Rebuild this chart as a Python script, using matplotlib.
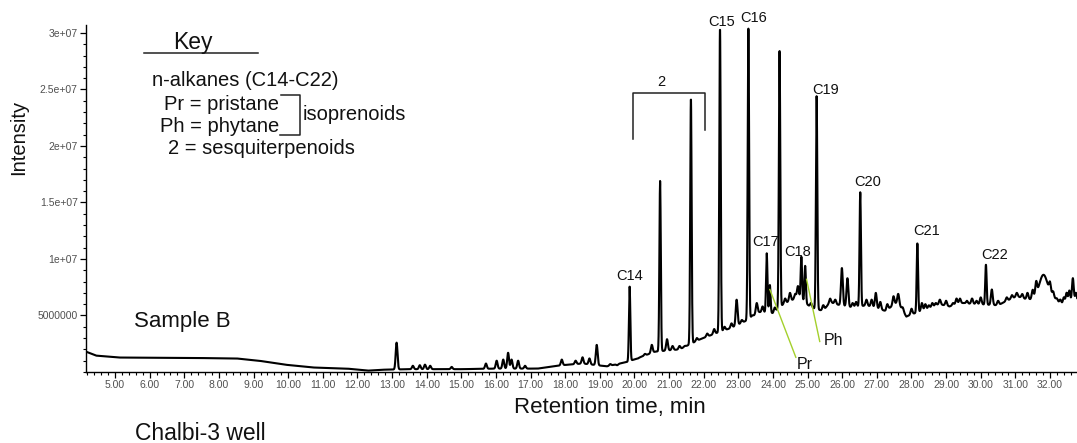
import numpy as np
import matplotlib
matplotlib.use("Agg")
import matplotlib.pyplot as plt
from matplotlib.ticker import MultipleLocator, FixedLocator, FixedFormatter

plt.rcParams["font.family"] = ["Liberation Sans", "DejaVu Sans"]

# Baseline of the TIC trace (retention time in min, intensity)
base_t = [4.16, 4.45, 5.1, 7.0, 8.5, 9.15, 9.9, 10.7, 11.7, 12.3, 12.7, 13.5, 15.0,
          16.0, 17.2, 17.9, 18.5, 19.2, 19.8, 20.6, 21.3, 21.9, 22.5, 22.8, 23.2,
          23.6, 24.0, 24.3, 24.5, 24.75, 25.1, 25.45, 25.65, 25.8, 26.3, 26.7,
          27.25, 27.6, 27.85, 28.0, 28.5, 28.8, 29.1, 29.4, 29.9, 30.5, 30.75,
          31.05, 31.35, 32.1, 32.3, 32.78]
base_i = [1.8e6, 1.45e6, 1.28e6, 1.25e6, 1.2e6, 1.0e6, 0.65e6, 0.4e6, 0.3e6, 0.12e6,
          0.2e6, 0.25e6, 0.25e6, 0.3e6, 0.3e6, 0.6e6, 0.75e6, 0.5e6, 0.9e6, 1.8e6,
          2.0e6, 2.9e6, 3.6e6, 3.9e6, 4.5e6, 5.3e6, 5.2e6, 6.0e6, 6.3e6, 6.6e6,
          5.7e6, 5.4e6, 6.2e6, 6.0e6, 5.7e6, 5.9e6, 5.4e6, 6.2e6, 4.9e6, 5.1e6,
          5.6e6, 6.0e6, 5.8e6, 6.1e6, 6.0e6, 5.9e6, 6.3e6, 6.7e6, 6.4e6, 6.6e6,
          6.0e6, 6.2e6]

# Named peaks: n-alkanes, isoprenoids and unlabelled sesquiterpenoid/major peaks
peak_names = ["C14", "", "", "C15", "C16", "C17", "Pr", "", "C18", "Ph", "C19",
              "C20", "C21", "C22"]
peak_t = [19.86, 20.74, 21.63, 22.47, 23.29, 23.82, 23.91, 24.19, 24.82, 24.93,
          25.26, 26.52, 28.17, 30.15]
peak_i = [7.55e6, 1.69e7, 2.42e7, 3.04e7, 3.05e7, 1.05e7, 7.7e6, 2.85e7, 1.02e7,
          9.4e6, 2.44e7, 1.59e7, 1.14e7, 9.5e6]

# Small peaks and detector noise
minor_t = [13.13, 13.6, 13.8, 13.95, 14.1, 14.72, 15.71, 16.02, 16.21, 16.35, 16.45,
           16.64, 16.84, 17.9, 18.3, 18.5, 18.7, 18.91, 19.3, 19.5, 20.1, 20.3, 20.5,
           20.94, 21.1, 21.3, 21.45, 21.8, 22.1, 22.3, 22.6, 22.8, 22.95, 23.1, 23.4,
           23.53, 23.7, 24.05, 24.35, 24.49, 24.64, 24.72, 25.1, 25.45, 25.65, 25.8,
           25.99, 26.15, 26.3, 26.4, 26.7, 26.85, 26.97, 27.1, 27.3, 27.48, 27.62,
           27.75, 28.0, 28.3, 28.4, 28.5, 28.6, 28.7, 28.82, 29.0, 29.2, 29.3, 29.4,
           29.5, 29.6, 29.75, 29.88, 30.0, 30.32, 30.5, 30.75, 30.9, 31.04, 31.2,
           31.35, 31.5, 31.6, 32.0, 32.09, 32.2, 32.3, 32.4, 32.48, 32.56, 32.66,
           32.75]
minor_i = [2.6e6, 0.55e6, 0.6e6, 0.65e6, 0.55e6, 0.45e6, 0.75e6, 1.0e6, 1.1e6, 1.7e6,
           1.1e6, 1.0e6, 0.55e6, 1.1e6, 1.0e6, 1.3e6, 1.2e6, 2.4e6, 0.7e6, 0.6e6,
           1.2e6, 1.6e6, 2.4e6, 2.9e6, 2.3e6, 2.3e6, 2.3e6, 3.0e6, 3.4e6, 3.8e6,
           4.0e6, 4.3e6, 6.4e6, 4.6e6, 5.0e6, 6.1e6, 5.8e6, 5.7e6, 6.5e6, 7.0e6,
           6.9e6, 7.6e6, 6.1e6, 5.9e6, 6.5e6, 6.4e6, 9.2e6, 8.3e6, 6.1e6, 6.2e6,
           6.4e6, 6.4e6, 7.0e6, 6.2e6, 6.0e6, 6.7e6, 6.9e6, 5.7e6, 5.6e6, 6.1e6,
           6.0e6, 5.9e6, 6.1e6, 6.1e6, 6.4e6, 6.3e6, 6.1e6, 6.5e6, 6.5e6, 6.1e6,
           6.3e6, 6.5e6, 6.3e6, 6.6e6, 7.3e6, 6.3e6, 6.6e6, 6.8e6, 7.0e6, 6.9e6,
           7.0e6, 7.2e6, 7.6e6, 7.4e6, 7.0e6, 6.5e6, 6.4e6, 6.6e6, 7.0e6, 7.2e6,
           8.3e6, 7.0e6]

# Broad unresolved hump near the end of the run
hump_t = [31.81]
hump_i = [8.6e6]

t = np.arange(4.16, 32.79, 0.004)
baseline = np.interp(t, base_t, base_i)
signal = baseline.copy()


def add_peaks(times, tops, sigma):
    global signal
    for pt, top in zip(times, tops):
        amp = top - np.interp(pt, base_t, base_i)
        signal += amp * np.exp(-0.5 * ((t - pt) / sigma) ** 2)


add_peaks(peak_t, peak_i, 0.02)
add_peaks(minor_t, minor_i, 0.026)
add_peaks(hump_t, hump_i, 0.12)

W, H = 1077, 443
fig = plt.figure(figsize=(W / 100, H / 100), dpi=100)
ax = fig.add_axes([86 / W, 1 - 372 / H, (W - 86) / W, (372 - 25) / H])


def fp(x, y):
    return x / W, 1 - y / H


ax.plot(t, signal, color="black", lw=1.5, solid_joinstyle="round")
ax.set_xlim(4.16, 32.78)
ax.set_ylim(0, 3.07e7)

for s in ("top", "right"):
    ax.spines[s].set_visible(False)
for s in ("left", "bottom"):
    ax.spines[s].set_linewidth(1.0)

xt = np.arange(5, 33)
ax.xaxis.set_major_locator(FixedLocator(xt))
ax.xaxis.set_major_formatter(FixedFormatter([f"{v:.2f}" for v in xt]))
ax.xaxis.set_minor_locator(MultipleLocator(0.2))
yt = [5e6, 1e7, 1.5e7, 2e7, 2.5e7, 3e7]
ax.yaxis.set_major_locator(FixedLocator(yt))
ax.yaxis.set_major_formatter(FixedFormatter(["5000000", "1e+07", "1.5e+07", "2e+07",
                                              "2.5e+07", "3e+07"]))
ax.yaxis.set_minor_locator(MultipleLocator(1e6))
ax.tick_params(axis="both", which="major", direction="out", length=4, width=0.9,
               labelsize=7.5, labelcolor="#505050", pad=2)
ax.tick_params(axis="both", which="minor", direction="out", length=2.5, width=0.8)

# Peak labels
label_off = {"C14": (0, 11), "C15": (2, 6), "C16": (5, 9), "C17": (-1, 11),
             "C18": (-4, 5), "C19": (9, 6), "C20": (7, 10), "C21": (9, 12),
             "C22": (9, 10)}
for name, pt, top in zip(peak_names, peak_t, peak_i):
    if name in label_off:
        dx, dy = label_off[name]
        ax.annotate(name, (pt, top), xytext=(dx * 0.72, dy * 0.72),
                    textcoords="offset points", ha="center", va="center",
                    fontsize=10.5, color="#111111")

# Pristane / phytane leader lines
lime = "#a4d02c"
ax.plot([23.91, 24.66], [7.3e6, 1.3e6], color=lime, lw=1.0)
ax.plot([24.97, 25.35], [8.2e6, 2.7e6], color=lime, lw=1.0)
ax.text(24.92, 0.67e6, "Pr", ha="center", va="center", fontsize=11.5, color="#111111")
ax.text(25.46, 2.8e6, "Ph", ha="left", va="center", fontsize=11.5, color="#111111")

# Sesquiterpenoid bracket
ax.plot([19.97, 19.97, 22.05, 22.05], [2.06e7, 2.47e7, 2.47e7, 2.14e7],
        color="#222222", lw=1.1)
ax.text(20.78, 2.57e7, "2", ha="center", va="center", fontsize=10.5, color="#111111")

# Key
tc = "#111111"
fig.text(*fp(193, 42), "Key", ha="center", va="center", fontsize=16.5, color=tc)
fig.add_artist(plt.Line2D([144 / W, 258 / W], [1 - 53 / H, 1 - 53 / H],
                          color="#222222", lw=1.1))
fig.text(*fp(152, 80), "n-alkanes (C14-C22)", ha="left", va="center",
         fontsize=14.5, color=tc)
fig.text(*fp(279, 105), "Pr = pristane", ha="right", va="center", fontsize=14.5, color=tc)
fig.text(*fp(279, 126), "Ph = phytane", ha="right", va="center", fontsize=14.5, color=tc)
fig.text(*fp(168, 148), "2 = sesquiterpenoids", ha="left", va="center",
         fontsize=14.5, color=tc)
bx = [281 / W, 300 / W, 300 / W, 280 / W]
by = [1 - 95 / H, 1 - 95 / H, 1 - 135 / H, 1 - 135 / H]
fig.add_artist(plt.Line2D(bx, by, color="#222222", lw=1.1))
fig.text(*fp(303, 114), "isoprenoids", ha="left", va="center", fontsize=14.5, color=tc)

fig.text(*fp(134, 321), "Sample B", ha="left", va="center", fontsize=16, color=tc)
fig.text(*fp(135, 433), "Chalbi-3 well", ha="left", va="center", fontsize=16.5, color=tc)
fig.text(*fp(19, 137), "Intensity", ha="center", va="center", rotation=90,
         fontsize=14.5, color=tc)
fig.text(*fp(610, 408), "Retention time, min", ha="center", va="center",
         fontsize=16, color=tc)

fig.savefig("out.png", dpi=100)
